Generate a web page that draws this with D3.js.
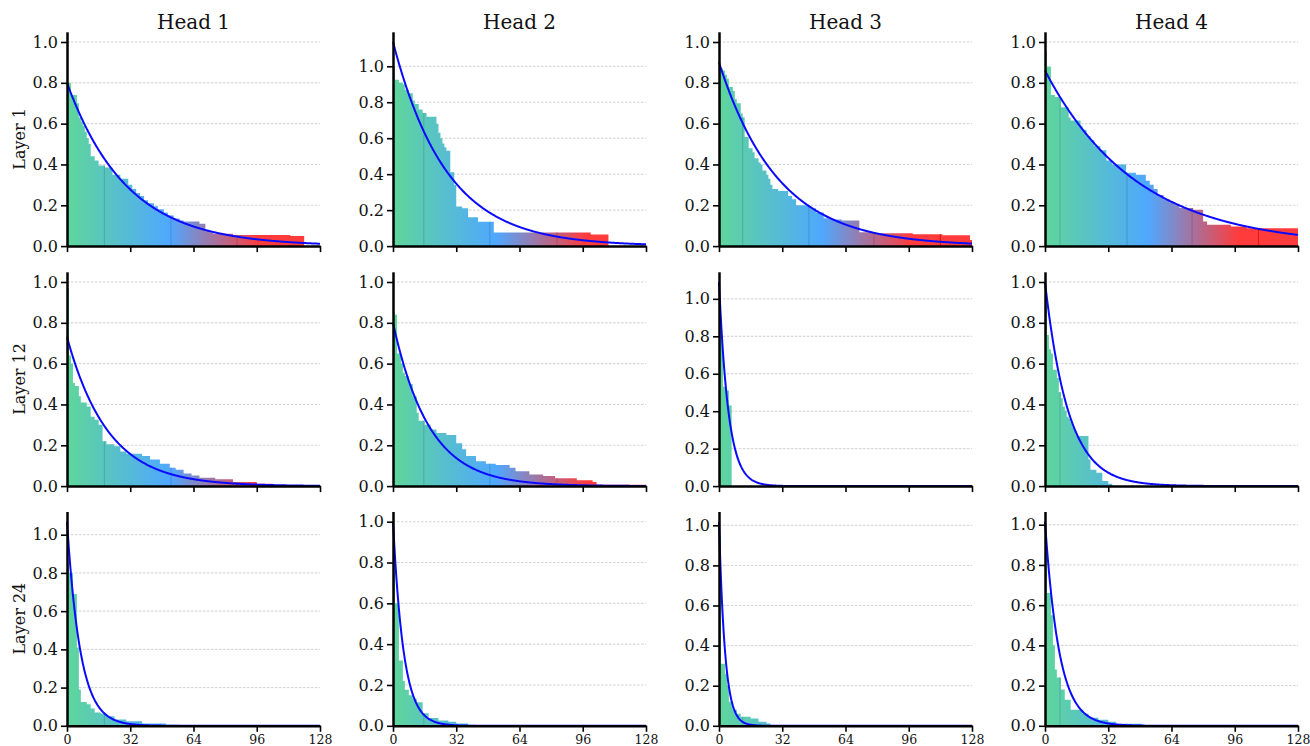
<!DOCTYPE html>
<html>
<meta charset="utf-8" />
<script src="https://d3js.org/d3.v7.min.js"></script>
<style>
  body { margin: 0; background: #fff; }
  text { font-family: "DejaVu Serif", serif; fill: #111; }
</style>
<body>
<svg id="chart" width="1310" height="746"></svg>
<script>
const heads = ["Head 1", "Head 2", "Head 3", "Head 4"];
const layers = ["Layer 1", "Layer 12", "Layer 24"];
const xTicks = [0, 32, 64, 96, 128];
const yTicks = [0, 0.2, 0.4, 0.6, 0.8, 1.0];

// histogram bins, [from, to, height]
const barsL1H1 = [[0,2,0.80],[2,5,0.74],[5,6,0.70],[6,7,0.63],[7,8,0.61],[8,9,0.59],[9,10,0.56],[10,11,0.53],[11,12,0.50],[12,14,0.44],[14,16,0.42],[16,19,0.395],[19,23,0.385],[23,27,0.35],[27,31,0.33],[31,33,0.30],[33,35,0.28],[35,37,0.26],[37,39,0.245],[39,41,0.225],[41,44,0.21],[44,46,0.195],[46,49,0.18],[49,51,0.165],[51,54,0.15],[54,57,0.135],[57,59,0.125],[59,67,0.12],[67,70,0.11],[70,72,0.075],[72,74,0.068],[74,84,0.06],[84,113,0.055],[113,120,0.05]];
const barsL1H2 = [[0,1,1.0],[1,3,0.925],[3,5,0.91],[5,6,0.90],[6,8,0.87],[8,10,0.85],[10,11,0.81],[11,13,0.79],[13,15,0.76],[15,17,0.74],[17,22,0.72],[22,23,0.68],[23,24,0.63],[24,25,0.60],[25,26,0.57],[26,27,0.55],[27,29,0.53],[29,31,0.41],[31,32,0.34],[32,35,0.22],[35,38,0.21],[38,43,0.16],[43,51,0.135],[51,100,0.075],[100,109,0.065]];
const barsL1H3 = [[0,2,0.87],[2,3,0.86],[3,4,0.84],[4,5,0.82],[5,7,0.78],[7,8,0.76],[8,9,0.72],[9,11,0.70],[11,12,0.65],[12,13,0.63],[13,15,0.535],[15,17,0.48],[17,18,0.46],[18,20,0.43],[20,21,0.41],[21,22,0.40],[22,24,0.37],[24,25,0.35],[25,26,0.33],[26,27,0.30],[27,30,0.28],[30,35,0.27],[35,37,0.245],[37,39,0.23],[39,46,0.20],[46,49,0.185],[49,53,0.165],[53,58,0.137],[58,62,0.13],[62,71,0.125],[71,78,0.068],[78,98,0.063],[98,113,0.058],[113,127,0.053],[127,128,0.03]];
const barsL1H4 = [[0,1,0.955],[1,3,0.88],[3,5,0.74],[5,8,0.73],[8,12,0.68],[12,13,0.63],[13,18,0.615],[18,19,0.59],[19,21,0.57],[21,23,0.54],[23,25,0.52],[25,28,0.49],[28,31,0.47],[31,34,0.42],[34,41,0.40],[41,46,0.36],[46,51,0.35],[51,53,0.32],[53,55,0.30],[55,57,0.28],[57,60,0.25],[60,63,0.23],[63,66,0.215],[66,68,0.20],[68,75,0.187],[75,80,0.178],[80,82,0.12],[82,94,0.104],[94,102,0.096],[102,128,0.088]];
const barsL12H1 = [[0,1,0.97],[1,2,0.64],[2,3,0.60],[3,4,0.505],[4,6,0.49],[6,7,0.44],[7,10,0.41],[10,12,0.39],[12,14,0.34],[14,16,0.325],[16,18,0.30],[18,20,0.22],[20,24,0.205],[24,27,0.195],[27,30,0.17],[30,38,0.158],[38,42,0.147],[42,47,0.13],[47,52,0.11],[52,55,0.09],[55,59,0.08],[59,63,0.062],[63,67,0.052],[67,75,0.041],[75,84,0.033],[84,96,0.02],[96,104,0.011],[104,128,0.005]];
const barsL12H2 = [[0,1,0.85],[1,2,0.84],[2,4,0.65],[4,5,0.60],[5,6,0.555],[6,8,0.54],[8,10,0.50],[10,12,0.44],[12,13,0.36],[13,16,0.32],[16,19,0.30],[19,22,0.277],[22,27,0.26],[27,32,0.25],[32,35,0.21],[35,37,0.18],[37,42,0.147],[42,47,0.122],[47,52,0.11],[52,59,0.103],[59,62,0.09],[62,69,0.073],[69,76,0.057],[76,82,0.049],[82,93,0.038],[93,101,0.029],[101,103,0.02],[103,128,0.007]];
const barsL12H3 = [[0,1,0.98],[1,2,0.78],[2,3,0.53],[3,5,0.51],[5,6.4,0.43]];
const barsL12H4 = [[0,1,0.94],[1,2,0.74],[2,3,0.67],[3,4,0.65],[4,6,0.57],[6,7,0.53],[7,8,0.46],[8,9,0.43],[9,10,0.39],[10,11,0.37],[11,12,0.34],[12,13,0.33],[13,14,0.31],[14,15,0.29],[15,16,0.27],[16,22,0.245],[22,23,0.13],[23,26,0.08],[26,29,0.065],[29,32,0.025],[32,34,0.012]];
const barsL24H1 = [[0,1,0.85],[1,3,0.80],[3,5,0.69],[5,6,0.41],[6,7,0.19],[7,10,0.125],[10,12,0.113],[12,14,0.09],[14,17,0.07],[17,20,0.065],[20,24,0.05],[24,30,0.033],[30,38,0.024],[38,50,0.012],[50,57,0.005]];
const barsL24H2 = [[0,1,0.95],[1,3,0.60],[3,5,0.32],[5,6,0.22],[6,8,0.177],[8,10,0.15],[10,12,0.133],[12,15,0.116],[15,18,0.062],[18,23,0.038],[23,28,0.026],[28,32,0.02],[32,38,0.011],[38,42,0.005]];
const barsL24H3 = [[0,1,0.95],[1,3,0.31],[3,4,0.26],[4,5,0.20],[5,7,0.12],[7,9,0.08],[9,11,0.06],[11,16,0.045],[16,20,0.037],[20,24,0.02],[24,26,0.012]];
const barsL24H4 = [[0,1,0.95],[1,3,0.66],[3,4,0.55],[4,5,0.40],[5,6,0.28],[6,8,0.24],[8,10,0.18],[10,13,0.13],[13,19,0.08],[19,22,0.06],[22,27,0.04],[27,32,0.03],[32,36,0.02],[36,49,0.01]];

const barsL1 = [barsL1H1, barsL1H2, barsL1H3, barsL1H4];
const barsL12 = [barsL12H1, barsL12H2, barsL12H3, barsL12H4];
const barsL24 = [barsL24H1, barsL24H2, barsL24H3, barsL24H4];

// exponential fit a * exp(-b * x), [a, b]
const fitL1 = [[0.80, 0.0331], [1.135, 0.037], [0.90, 0.0335], [0.86, 0.0215]];
const fitL12 = [[0.73, 0.048], [0.80, 0.055], [1.09, 0.21], [1.0, 0.085]];
const fitL24 = [[1.068, 0.148], [1.0, 0.187], [1.018, 0.33], [1.015, 0.14]];

// darker seams inside the bars, per head
const seamsByHead = [[18.9, 52.6, 86], [15.6, 49, 83], [12, 45.5, 78.4, 112], [7.6, 41.5, 74.4, 108]];

// colour of the bars along x
const colorPos = [0, 52, 98];
const colorVals = ["#5fd69b", "#4fa8ff", "#ff3b3b"];

const rows = [
  { label: layers[0], bars: barsL1, fits: fitL1 },
  { label: layers[1], bars: barsL12, fits: fitL12 },
  { label: layers[2], bars: barsL24, fits: fitL24 }
];

const colLeft = [67, 393, 719, 1045];
const rowTop = [31.8, 271.8, 511.5];
const pw = 253, ph = 214.3;

const svg = d3.select("#chart");
const x = d3.scaleLinear().domain([0, 128]).range([0, pw]);
const color = d3.scaleLinear().domain(colorPos).range(colorVals);

const defs = svg.append("defs");
const grad = defs.append("linearGradient")
  .attr("id", "barGrad")
  .attr("gradientUnits", "userSpaceOnUse")
  .attr("x1", 0).attr("x2", pw).attr("y1", 0).attr("y2", 0);
colorPos.forEach((p, i) => {
  grad.append("stop").attr("offset", p / 128).attr("stop-color", colorVals[i]);
});

rows.forEach((row, r) => {
  row.bars.forEach((bars, c) => {
    const [a, b] = row.fits[c];
    const top = d3.max([1, a, d3.max(bars, d => d[2])]) * 1.05;
    const y = d3.scaleLinear().domain([0, top]).range([ph, 0]);
    const g = svg.append("g").attr("transform", `translate(${colLeft[c]},${rowTop[r]})`);

    g.append("g").selectAll("line")
      .data(yTicks.filter(t => t > 0))
      .join("line")
      .attr("x1", 0).attr("x2", pw)
      .attr("y1", d => y(d)).attr("y2", d => y(d))
      .attr("stroke", "#c4c4c4").attr("stroke-width", 0.8)
      .attr("stroke-dasharray", "2.5,1.5");

    const pts = bars.map(d => [d[0], d[2]]);
    pts.push([bars[bars.length - 1][1], bars[bars.length - 1][2]]);
    const area = d3.area()
      .curve(d3.curveStepAfter)
      .x(d => x(d[0])).y0(y(0)).y1(d => y(d[1]));
    g.append("path").attr("d", area(pts)).attr("fill", "url(#barGrad)");

    seamsByHead[c].forEach(p => {
      const seg = bars.find(d => p >= d[0] && p < d[1]);
      if (!seg) return;
      g.append("line")
        .attr("x1", x(p)).attr("x2", x(p))
        .attr("y1", y(0)).attr("y2", y(seg[2]))
        .attr("stroke", d3.color(color(p)).darker(0.45))
        .attr("stroke-width", 1);
    });

    const curve = d3.range(0, 128.01, 0.25).map(t => [t, a * Math.exp(-b * t)]);
    g.append("path")
      .attr("d", d3.line().x(d => x(d[0])).y(d => y(d[1]))(curve))
      .attr("fill", "none").attr("stroke", "#0a0aff").attr("stroke-width", 2);

    const ya = g.append("g")
      .call(d3.axisLeft(y).tickValues(yTicks).tickFormat(d3.format(".1f")).tickSize(6).tickSizeOuter(0).tickPadding(3));
    ya.select(".domain").attr("stroke-width", 2.5).attr("stroke", "#000");
    ya.selectAll(".tick line").attr("stroke-width", 1.6).attr("stroke", "#000");
    ya.selectAll(".tick text").style("font-size", "16px").style("font-family", "DejaVu Serif");

    const xa = g.append("g").attr("transform", `translate(0,${ph})`)
      .call(d3.axisBottom(x).tickValues(xTicks).tickSize(6).tickSizeOuter(0).tickPadding(3)
        .tickFormat(r === rows.length - 1 ? d3.format("d") : () => ""));
    xa.select(".domain").attr("stroke-width", 2.5).attr("stroke", "#000");
    xa.selectAll(".tick line").attr("stroke-width", 1.6).attr("stroke", "#000");
    xa.selectAll(".tick text").style("font-size", "12.5px").style("font-family", "DejaVu Serif");

    if (r === 0) {
      g.append("text").attr("x", pw / 2).attr("y", -3)
        .attr("text-anchor", "middle").style("font-size", "20px").text(heads[c]);
    }
    if (c === 0) {
      g.append("text")
        .attr("transform", `translate(${25 - colLeft[0]},${ph / 2}) rotate(-90)`)
        .attr("text-anchor", "middle").style("font-size", "16px").text(row.label);
    }
  });
});
</script>
</body>
</html>
